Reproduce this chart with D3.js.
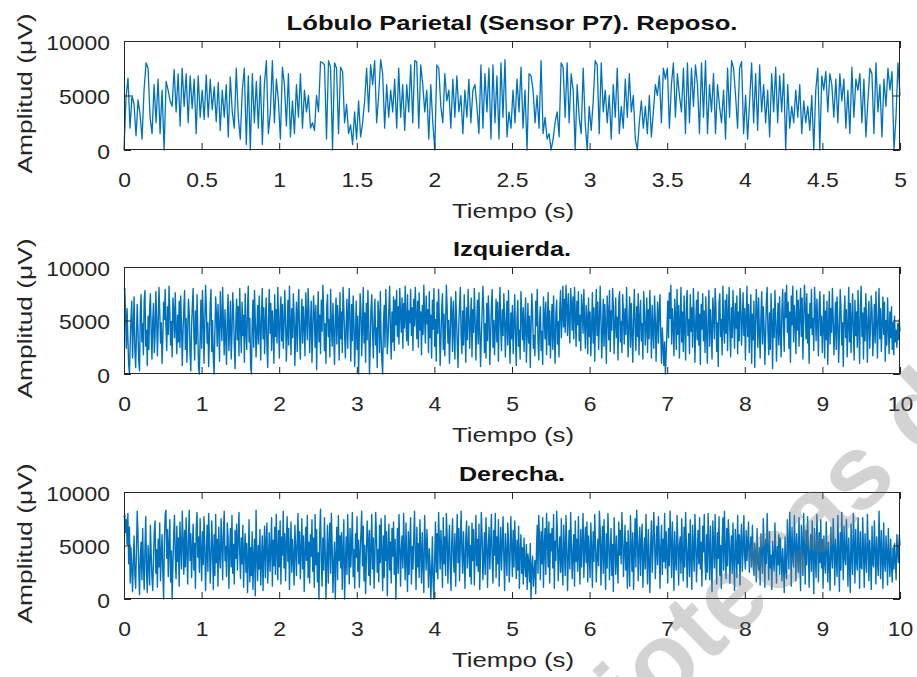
<!DOCTYPE html>
<html>
<head>
<meta charset="utf-8">
<script src="https://cdn.jsdelivr.net/npm/d3@7/dist/d3.min.js"></script>
<style>
  html, body { margin: 0; padding: 0; background: #fff; }
  svg { display: block; }
  text { font-family: "Liberation Sans", Arial, Helvetica, sans-serif; }
</style>
</head>
<body>
<svg id="chart" width="917" height="677"></svg>
<script>
// EEG amplitude (µV), sensor P7, parietal lobe
const titles = ["Lóbulo Parietal (Sensor P7). Reposo.", "Izquierda.", "Derecha."];
const durations = [5, 10, 10];               // seconds per recording
const xTicksRest = [0, 0.5, 1, 1.5, 2, 2.5, 3, 3.5, 4, 4.5, 5];
const xTicksTask = [0, 1, 2, 3, 4, 5, 6, 7, 8, 9, 10];
const yTicks = [0, 5000, 10000];
const xLabel = "Tiempo (s)";
const yLabel = "Amplitud (μV)";

// Rest recording, 5 s
const reposo = [
  0, 4800, 6600, 2000, 5000, 4200, 1300, 4600, 3300, 1000, 5500, 8000, 7500, 3000, 1500, 6000, 2500, 6500, 1500, 5500,
  0, 6300, 5500, 4500, 4000, 7400, 3500, 7000, 2200, 7500, 4000, 7000, 2500, 6800, 3800, 6500, 1500, 6800, 3000, 5500,
  2800, 6900, 3000, 6500, 3700, 5800, 2600, 6200, 1800, 5500, 3000, 6000, 1200, 6700, 3500, 2000, 7500, 3000, 1000, 5500,
  7500, 500, 6800, 0, 7000, 2500, 6300, 2000, 6800, 500, 6000, 8200, 1500, 3500, 8200, 2500, 6500, 4500, 1000, 7600,
  6000, 2200, 7000, 1200, 4500, 1500, 6000, 3000, 7000, 2000, 5500, 3500, 5000, 2000, 2500, 1800, 5000, 3500, 8100, 8000,
  7800, 1000, 8200, 7600, 0, 8000, 7500, 1500, 7600, 7200, 2500, 4200, 1500, 2300, 500, 3500, 1000, 4500, 1200, 2500,
  4500, 7500, 3500, 7800, 6000, 8200, 2500, 5000, 8300, 7000, 2000, 6000, 3000, 5500, 3500, 6500, 2000, 7500, 3000, 6000,
  1800, 6000, 3500, 7800, 2500, 8200, 8100, 2000, 7800, 6000, 3500, 5500, 1000, 6000, 2500, 0, 7800, 7500, 4000, 2500,
  7000, 4500, 5500, 2000, 6500, 3000, 6800, 3500, 5000, 1500,
  5500, 3000, 6500, 2500, 5500, 6000, 4000, 1500, 7800, 2000, 7000, 3500, 7500, 1000, 7800, 2500, 6800, 1000, 8000, 3000,
  8300, 1200, 3500, 2000, 5500, 2500, 6500, 3500, 7600, 2000, 5500, 0, 7000, 6800, 5500, 2500, 5000, 2000, 8200, 1500,
  3000, 1000, 1500, 0, 1000, 2500, 3500, 1200, 8000, 7600, 3000, 8000, 2500, 7000, 5500, 0, 6000, 3000, 1500, 7500,
  2500, 0, 4000, 1800, 4500, 8200, 7800, 1500, 8000, 3500, 5500, 2500, 5000, 1000, 6000, 3000, 7500, 1500, 4000, 2000,
  6500, 3000, 7000, 3500, 5000, 1000, 0, 2500, 4500, 2000, 4000, 1500, 5000, 1200, 3500, 6000, 5000, 6800, 2500, 7500,
  6500, 7500, 2000, 6000, 8000, 3000, 7000, 5000, 3500, 7500, 1500, 8000, 2500, 7500, 4000, 7800, 6000, 1500, 8000, 3000,
  8200, 1500, 6000, 3500, 7000, 1500, 6000, 4000, 2500, 5500, 1000, 7500, 3000, 8200, 7500, 5000, 2000, 7500, 8100, 1500,
  5000, 1000, 4500, 8000, 2500, 7000, 1800, 7800, 3500, 6000, 2500, 5500, 1200, 7000, 3500, 7600, 2500, 6800, 3500, 7000,
  0, 6000, 2000, 4000, 2500, 5500, 3000, 6000, 1500, 4500, 2500, 4000, 1800, 5000, 0, 5500, 7500, 0, 6800, 5500,
  7200, 3500, 7000, 6000, 3000, 6500, 2500, 7000, 4500, 6500, 2000, 5500, 1500, 7600, 3000, 6500, 5500, 7000, 2500, 6500,
  1200, 4500, 7500, 7000, 1500, 8000, 3500, 6000, 1200, 6500, 4000, 7500, 5500, 7200, 0, 3000, 8000, 5000
];

// Left-hand task, 10 s
const izquierda = [
  7900, 8000, 5600, 2400, 6100, 3300, 900, 0, 2800, 5200, 6800, 1500, 4300, 7200, 2100, 600, 3500, 6500, 4000, 1200, 300, 5800, 7400, 3000, 4700, 1800, 6900, 7800, 2600, 4100, 800, 5400, 2300, 6200, 7500, 3900, 1400, 5000, 6600, 2000, 3600, 7700, 5300, 1700, 4500, 8100, 6000, 2900, 4800, 1000,
  3200, 6700, 5100, 7900, 4400, 2200, 6300, 3700, 8200, 5800, 2700, 4900, 1600, 7100, 6000, 3400, 7600, 4200, 1900, 5500, 3000, 6800, 2500, 7300, 4600, 800, 3900, 6100, 7800, 2300, 5200, 1100, 4000, 7000, 5700, 2000, 300, 4500, 6400, 8000, 3600, 1300, 5900, 2800, 7400, 4100, 600, 0, 3300, 6900,
  2400, 7800, 5300, 1000, 4600, 8300, 6200, 2900, 4800, 700, 3500, 6600, 7900, 2100, 5000, 1500, 0, 3800, 7200, 5600, 2600, 6500, 4300, 1200, 7700, 5100, 3100, 8100, 4700, 1800, 6000, 3400, 900, 5400, 7400, 2200, 4100, 6800, 1400, 3700, 7600, 5800, 2700, 500, 4900, 7000, 3200, 6300, 1700, 8000,
  4400, 2000, 6700, 3600, 5500, 1100, 7500, 4000, 2300, 6100, 8200, 3000, 5200, 700, 0, 4600, 6900, 2500, 7800, 5000, 1600, 3900, 6400, 2800, 7300, 4500, 1300, 5700, 8000, 3300, 6200, 1900, 4700, 7100, 2600, 600, 5300, 7900, 3800, 6600, 2200, 5900, 4200, 1000, 7400, 3500, 6000, 2900, 8100, 4800,
  1500, 5600, 7200, 3100, 6500, 2400, 4400, 7800, 5100, 1200, 3700, 6900, 2700, 8200, 4900, 1800, 6100, 3400, 7500, 5400, 800, 4100, 6700, 2100, 5800, 7900, 3600, 1400, 4800, 7000, 2900, 6300, 4500, 1700, 7600, 5200, 3200, 8000, 6000, 2000, 4300, 6800, 1100, 3900, 7300, 5700, 2500, 6400, 400, 4600,
  7700, 3000, 5500, 1900, 6900, 4000, 8300, 5900, 2200, 4700, 1000, 6200, 7400, 3500, 5100, 1600, 7900, 4400, 2600, 6600, 3800, 900, 5300, 7100, 2800, 6400, 4900, 1300, 7600, 3300, 5800, 2000, 8100, 6100, 3700, 1500, 4600, 7000, 2400, 5600, 8000, 4200, 1200, 6500, 3100, 7300, 5000, 700, 3600, 6800,
  2300, 5400, 0, 3800, 7500, 6000, 1700, 4500, 8100, 2900, 5700, 1100, 6600, 3200, 7800, 4800, 0, 2600, 6200, 7400, 3900, 1500, 5200, 7000, 2700, 4300, 600, 6800, 5500, 2000, 7700, 3400, 1200, 0, 4700, 6400, 2500, 7900, 5300, 1900, 3600, 6100, 8200, 4000, 1400, 5800, 3000, 7200, 2200, 6900,
  4600, 7800, 3500, 6300, 2800, 8000, 5600, 3900, 7100, 2400, 6600, 4300, 8200, 5000, 3100, 7400, 2700, 5900, 4800, 7900, 3600, 6200, 2200, 7000, 4500, 8100, 5400, 3300, 6800, 2500, 7600, 4100, 5800, 1800, 6400, 3700, 8300, 5200, 2900, 7300, 4700, 6000, 2000, 7700, 3400, 5500, 1500, 6900, 4200, 8000,
  2600, 5100, 1200, 6700, 3800, 7900, 4900, 800, 3300, 6100, 7500, 2300, 5600, 1700, 4400, 8300, 6300, 2900, 5000, 1000, 3700, 7200, 5700, 2100, 6800, 4000, 1400, 7700, 5300, 3000, 600, 4600, 6500, 8100, 3500, 1900, 5900, 2700, 7400, 4300, 1100, 6200, 3200, 7900, 5500, 2400, 4800, 7100, 1600, 6000,
  3900, 8000, 5200, 1300, 4500, 6900, 2800, 7600, 4100, 700, 3400, 5800, 8200, 6100, 2000, 4700, 1500, 6600, 3100, 7300, 5400, 900, 3700, 6300, 7900, 2500, 5000, 1800, 4400, 7000, 3000, 6700, 1200, 5500, 8100, 4200, 2200, 6000, 3600, 7500, 5100, 1600, 4900, 6800, 2700, 7800, 4000, 1000, 5700, 3300,
  6400, 1900, 4600, 7400, 3500, 800, 5300, 6900, 2600, 4100, 1400, 7700, 5600, 3200, 6200, 2100, 4800, 7100, 1100, 3800, 6600, 2900, 5400, 600, 4300, 7500, 5800, 2400, 3600, 1700, 6800, 4500, 7900, 3000, 1300, 5100, 6300, 2200, 4000, 900, 7200, 5500, 3300, 6700, 1800, 4700, 7600, 2700, 5900, 1500,
  4200, 6500, 2300, 7300, 3700, 1000, 5600, 6900, 2800, 4900, 1600, 6100, 7800, 3400, 5200, 8200, 4400, 7000, 3900, 8300, 6200, 3600, 7500, 5000, 2900, 8000, 6600, 4100, 7200, 3300, 8100, 5700, 2600, 6800, 4600, 7700, 3100, 5500, 2200, 7400, 6000, 3800, 7900, 4700, 2400, 6400, 5300, 1900, 7100, 3500,
  5800, 1700, 4400, 7600, 2900, 6200, 1200, 5100, 7900, 3600, 6700, 2300, 4800, 8200, 5400, 1500, 3900, 7000, 2600, 6500, 4300, 1000, 7300, 5600, 3200, 7800, 2100, 5900, 4100, 8000, 6300, 1900, 4600, 7100, 3400, 5300, 1300, 6800, 7700, 3000, 4900, 2000, 7400, 5700, 2800, 6100, 3700, 8100, 4500, 1600,
  5000, 7200, 2500, 6600, 3800, 1100, 5500, 7900, 4200, 2200, 6300, 3500, 7500, 1800, 5200, 6900, 3100, 4700, 1400, 7700, 5900, 2700, 4400, 7100, 2000, 6000, 3300, 7800, 4900, 1500, 6400, 3900, 2400, 7300, 5100, 1200, 4600, 6700, 2900, 5700, 7400, 3600, 1000, 4300, 2600, 800, 3000, 0, 1900, 4100,
  6800, 3400, 7600, 5200, 8300, 2800, 6100, 4500, 1700, 7000, 5500, 2300, 7900, 3700, 6400, 1500, 4900, 8100, 3000, 5800, 2100, 7300, 4400, 1300, 6600, 7800, 3600, 5100, 1900, 7400, 4000, 6200, 2500, 8000, 5400, 1100, 4700, 6900, 3200, 7700, 2700, 5600, 900, 6500, 4200, 7500, 3100, 5900, 2000, 7200,
  3900, 1000, 5300, 7800, 2600, 6000, 4400, 1400, 7100, 5700, 3300, 8000, 6300, 2100, 4800, 700, 6700, 7500, 3500, 5100, 1800, 8200, 4600, 2900, 6900, 3800, 7400, 2200, 5500, 8100, 4100, 1600, 6200, 3400, 7800, 5000, 2400, 6600, 4300, 7300, 1900, 5800, 3100, 8000, 6400, 2700, 4900, 7600, 3600, 6100,
  1300, 5200, 8200, 3500, 6500, 2000, 4700, 7400, 1000, 5600, 3200, 6800, 600, 4300, 7900, 5900, 2500, 7100, 3800, 1500, 5400, 7700, 2800, 6300, 4500, 900, 3600, 6900, 8100, 4000, 1800, 5700, 2300, 7500, 4800, 500, 6100, 3400, 7800, 5000, 1200, 4200, 6600, 2700, 7200, 3700, 1600, 6000, 7900, 4400,
  2100, 7600, 5300, 8300, 3900, 6700, 2400, 5800, 1100, 7300, 4600, 8200, 3000, 6400, 5000, 1900, 7800, 4100, 6900, 2600, 5500, 8000, 3500, 7100, 1400, 4900, 8300, 6200, 3300, 7500, 2900, 5600, 1000, 6600, 4300, 7900, 3700, 5200, 2200, 8100, 6000, 3100, 7000, 4700, 1700, 6500, 7700, 3600, 5400, 2000,
  4600, 7400, 1500, 5900, 3200, 6800, 900, 4400, 7700, 2800, 6100, 3900, 8000, 5300, 1800, 4100, 6700, 2300, 7200, 5000, 1100, 3700, 7900, 6300, 2700, 4800, 700, 5600, 7300, 3400, 6000, 1600, 4500, 8100, 3000, 6600, 2000, 5100, 7500, 4000, 1300, 6900, 3600, 5800, 2500, 7800, 4300, 1000, 6400, 8200,
  3500, 5700, 1400, 6200, 3100, 7500, 4700, 1100, 5300, 6800, 2400, 4200, 7300, 5900, 1700, 3800, 6500, 2900, 7700, 4900, 1500, 5500, 8000, 3300, 6100, 2100, 4600, 7200, 3700, 6700, 1200, 5000, 2700, 7100, 4400, 1900, 5800, 3400, 6300, 2300, 4800, 1800, 5400, 3000, 4100, 2500, 4700, 3200, 5100, 4000
];

// Right-hand task, 10 s
const derecha = [
  7600, 7900, 6200, 7400, 5100, 8000, 3300, 6700, 1500, 4800, 2900, 700, 3600, 5900, 2200, 1000, 4400, 8200, 6100, 2700, 400, 3900, 5300, 1800, 6600, 3100, 900, 4700, 7700, 2500, 600, 5000, 3400, 1300, 6900, 4200, 2000, 800, 3700, 6300, 7300, 2400, 4600, 1100, 5600, 3000, 7100, 1700, 4100, 6000,
  2600, 0, 5400, 7900, 8300, 3800, 6500, 2100, 5100, 7400, 1600, 4500, 0, 3300, 6200, 7800, 4000, 1900, 6800, 3500, 5700, 1200, 7200, 4900, 2800, 8200, 5500, 2300, 6400, 3000, 7600, 4300, 1400, 5900, 8300, 3600, 6100, 2000, 4700, 7000, 2700, 5200, 1000, 6600, 8100, 3900, 5800, 2500, 7500, 4400,
  1700, 6300, 3200, 7700, 5000, 800, 4100, 6900, 2600, 8000, 5400, 1500, 3700, 7300, 4600, 900, 6000, 2200, 7900, 3400, 5600, 1200, 6700, 4000, 2900, 7500, 5300, 1800, 6200, 8200, 3600, 4900, 2100, 7100, 5800, 1000, 4300, 6600, 3000, 7800, 2400, 5100, 1400, 6400, 3800, 7000, 2700, 5500, 8100, 4200,
  1900, 5700, 3300, 6900, 1100, 4500, 6100, 2500, 5200, 600, 3600, 7400, 1600, 4800, 2200, 6300, 900, 3900, 5600, 300, 8300, 4100, 1700, 5000, 2800, 6500, 1300, 3500, 5900, 800, 4400, 6800, 2000, 5300, 7100, 1500, 3800, 6200, 2600, 4700, 7600, 1200, 5500, 3100, 6700, 2300, 7900, 4600, 1800, 6400,
  3000, 7300, 1400, 5800, 4100, 8200, 2900, 6100, 1700, 5100, 7700, 3500, 6600, 900, 4400, 7200, 2500, 5600, 3800, 1300, 6900, 4800, 2200, 5400, 8000, 3300, 6300, 1900, 4600, 7500, 2800, 5900, 700, 4200, 6700, 3600, 7800, 2000, 5300, 1500, 6000, 4000, 7400, 2600, 5700, 1100, 7900, 3200, 6500, 1600,
  4300, 0, 6400, 8400, 3500, 1200, 5700, 2700, 7600, 4500, 0, 3800, 6900, 1500, 5000, 7100, 2400, 8000, 4900, 600, 3300, 5300, 0, 4100, 6700, 1800, 7800, 3600, 5900, 2900, 6200, 900, 4400, 7400, 0, 3200, 5800, 2300, 7900, 4700, 1400, 6600, 3000, 5200, 8100, 2100, 4600, 1000, 6100, 3900,
  7700, 2600, 5500, 1100, 4200, 6100, 8200, 3100, 6800, 1700, 5000, 500, 3700, 7300, 5500, 2200, 6400, 1300, 4800, 7900, 2800, 5700, 1000, 3900, 8100, 6000, 2500, 4600, 1600, 6900, 3400, 7500, 4300, 800, 5900, 2000, 7800, 3600, 6300, 300, 4500, 7000, 2700, 5300, 1500, 6600, 4000, 7200, 2300, 5600,
  0, 3500, 6600, 2400, 7900, 5100, 1200, 4600, 5900, 2900, 8000, 4300, 1800, 7100, 3600, 700, 6300, 2300, 5400, 7600, 1400, 4900, 2800, 5600, 8200, 3900, 900, 6700, 3000, 5200, 2000, 7400, 4400, 1500, 6200, 3300, 600, 7800, 5000, 2700, 6500, 4100, 1100, 4700, 3200, 0, 2500, 5800, 1600, 0,
  4000, 7200, 2500, 6100, 1900, 8100, 5400, 2800, 6400, 4200, 1100, 7600, 3300, 5800, 2200, 8000, 6000, 1500, 4700, 6900, 3000, 800, 5500, 7500, 3700, 2500, 6100, 1200, 4900, 7900, 3400, 6600, 1700, 5200, 8200, 4400, 2400, 6300, 3800, 1000, 5700, 7300, 2900, 4600, 6800, 2100, 5000, 1400, 7100, 3600,
  6500, 1300, 4500, 7800, 3100, 5600, 2600, 7000, 900, 4200, 8100, 5900, 1800, 3700, 6200, 2300, 7600, 5100, 1100, 4800, 6700, 2800, 5300, 7900, 3500, 1500, 6400, 4100, 8000, 2000, 5800, 3300, 7400, 1200, 4600, 6700, 2700, 5000, 7700, 3900, 800, 6100, 4300, 2200, 7100, 5500, 1600, 3800, 7700, 4900,
  2100, 6400, 3000, 7300, 4700, 1900, 5500, 2700, 6800, 1000, 4400, 6000, 2400, 4800, 1400, 5700, 3200, 2100, 5100, 900, 4200, 3400, 1600, 5200, 0, 3000, 4000, 1200, 2600, 3600, 500, 4600, 6900, 2400, 7800, 5300, 1800, 6300, 3300, 7600, 1100, 4900, 6600, 2300, 8000, 5700, 3000, 7200, 1500, 6100,
  4500, 6600, 2900, 7900, 1000, 5400, 3600, 8200, 6100, 1700, 4300, 5800, 2500, 7500, 3200, 1300, 6900, 4600, 2200, 7800, 5100, 800, 3900, 6400, 2800, 8100, 5000, 1900, 4400, 6000, 1200, 7300, 3500, 5600, 2600, 7700, 4100, 1400, 6500, 3000, 5300, 8000, 2000, 4800, 6700, 3400, 7200, 1600, 5900, 4200,
  2000, 7100, 4600, 1100, 6300, 3500, 7900, 5200, 1600, 4000, 5600, 3100, 8200, 6600, 1300, 4700, 6800, 2400, 7400, 3800, 900, 6100, 2900, 8000, 5500, 1800, 4300, 6600, 2200, 5100, 700, 7600, 4900, 2300, 5900, 3400, 1500, 7200, 4100, 6400, 3300, 8100, 5700, 2100, 4500, 6900, 2700, 5300, 1000, 6400,
  3700, 1200, 7800, 5000, 2600, 6200, 900, 4400, 7500, 3000, 8300, 5800, 1700, 4800, 6700, 2200, 5400, 7000, 1100, 3900, 5700, 2800, 7900, 4200, 1400, 6500, 3600, 600, 5100, 7300, 2500, 4600, 8100, 6000, 1900, 4300, 6800, 3200, 7700, 5300, 1000, 4700, 6900, 2300, 5600, 3500, 8000, 2900, 6300, 4100,
  1500, 6600, 3100, 8200, 5200, 2000, 7200, 4500, 800, 6300, 3600, 2700, 7800, 5500, 1300, 4900, 5800, 2400, 7500, 4000, 1700, 6700, 3000, 8100, 5100, 1100, 4300, 6100, 2100, 7400, 3700, 900, 6900, 4600, 2600, 7900, 5600, 1600, 4100, 6400, 3300, 7600, 2800, 5300, 1200, 6800, 4400, 7900, 3500, 1800,
  6000, 2500, 8000, 4800, 1800, 6800, 3400, 700, 7300, 5100, 2900, 7900, 4200, 1400, 6200, 3800, 7700, 2200, 5000, 1000, 5500, 7600, 2700, 8200, 4600, 1900, 6600, 3100, 7400, 5800, 1500, 4400, 5900, 2400, 7100, 3600, 800, 6500, 4900, 2000, 7800, 3300, 6000, 1300, 5400, 7000, 2600, 4700, 7800, 3900,
  2800, 6400, 3600, 5200, 7200, 2500, 4500, 5800, 3000, 6900, 3800, 2200, 5200, 4200, 1600, 6600, 3500, 2700, 4800, 1300, 6100, 3900, 2400, 7500, 5000, 1100, 5600, 3300, 8000, 4600, 1800, 6300, 2900, 4100, 900, 5400, 3700, 2600, 7100, 4400, 1500, 4900, 3200, 6000, 2300, 5700, 3800, 1700, 4700, 3100,
  600, 5800, 2800, 1900, 7400, 4800, 2800, 8100, 5500, 1200, 6700, 3900, 3000, 7800, 5100, 1700, 6100, 4300, 2500, 7600, 3600, 800, 6900, 5300, 2200, 8000, 4700, 1400, 6400, 3200, 7700, 5000, 1100, 4500, 6000, 2600, 7300, 3800, 500, 6600, 4000, 2000, 7900, 5200, 1600, 6200, 3400, 7400, 2900, 5600,
  1000, 5900, 3500, 2400, 7200, 4600, 1600, 5300, 3100, 800, 6700, 4200, 2900, 7500, 5000, 1300, 5600, 3700, 2100, 7800, 4400, 700, 6200, 2700, 8100, 5100, 1800, 6800, 3900, 3200, 7400, 4800, 1200, 5700, 3300, 600, 7000, 4100, 2300, 8000, 5400, 1500, 6500, 3600, 2700, 7600, 4900, 1000, 6300, 3000,
  2800, 7600, 4500, 1100, 6100, 3700, 2500, 7900, 5200, 1700, 5500, 4000, 900, 6800, 3300, 3000, 7300, 4700, 1400, 5800, 3600, 2200, 8200, 5000, 1900, 6400, 4100, 1000, 7100, 3500, 2600, 5900, 4300, 1300, 6600, 3900, 2100, 5600, 3200, 1600, 4800, 2800, 5200, 3500, 1800, 6000, 4400, 3400, 6000, 5000
];

const series = [reposo, izquierda, derecha];
const xTicks = [xTicksRest, xTicksTask, xTicksTask];

// ---- layout ----
const W = 917, H = 677;
const plotLeft = 124, plotRight = 900;
const panelTops = [41, 267, 492];
const panelBottoms = [150, 374, 599];
const titleWidths = [451, 118, 106];
const lineWidths = [1.3, 1.4, 1.4];
const ink = "#262626";
const lineColor = "#0072BD";
const tickLen = 7;
const tickStretch = 1.09;

const svg = d3.select("#chart");
svg.append("rect").attr("width", W).attr("height", H).attr("fill", "#fff");

// stretch a text element to a target width
function fitWidth(sel, width) {
  sel.attr("textLength", width).attr("lengthAdjust", "spacingAndGlyphs");
}
function stretch(sel, k) {
  sel.each(function () {
    const w = this.getComputedTextLength();
    d3.select(this).attr("textLength", w * k).attr("lengthAdjust", "spacingAndGlyphs");
  });
}

series.forEach((values, p) => {
  const top = panelTops[p], bottom = panelBottoms[p];
  const dur = durations[p];
  const x = d3.scaleLinear().domain([0, dur]).range([plotLeft, plotRight]);
  const y = d3.scaleLinear().domain([0, 10000]).range([bottom, top]);
  const g = svg.append("g");

  // trace
  const n = values.length;
  const line = d3.line()
    .x((d, i) => x(i * dur / (n - 1)))
    .y(d => y(d));
  g.append("path")
    .datum(values)
    .attr("d", line)
    .attr("fill", "none")
    .attr("stroke", lineColor)
    .attr("stroke-width", lineWidths[p])
    .attr("stroke-linejoin", "round");

  // axes: ticks pointing inward, mirrored on opposite sides
  const xb = d3.axisBottom(x).tickValues(xTicks[p]).tickSize(-tickLen).tickPadding(0)
    .tickFormat(d3.format("~g"));
  const xt = d3.axisTop(x).tickValues(xTicks[p]).tickSize(-tickLen).tickFormat("");
  const yl = d3.axisLeft(y).tickValues(yTicks).tickSize(-tickLen).tickFormat(d3.format("d"));
  const yr = d3.axisRight(y).tickValues(yTicks).tickSize(-tickLen).tickFormat("");

  const gxb = g.append("g").attr("transform", `translate(0,${bottom})`).call(xb);
  const gxt = g.append("g").attr("transform", `translate(0,${top})`).call(xt);
  const gyl = g.append("g").attr("transform", `translate(${plotLeft},0)`).call(yl);
  const gyr = g.append("g").attr("transform", `translate(${plotRight},0)`).call(yr);

  [gxb, gxt, gyl, gyr].forEach(a => {
    a.select(".domain").remove();
    a.selectAll("line").attr("stroke", ink).attr("stroke-width", 1);
  });

  gxb.selectAll("text")
    .attr("y", 36.5).attr("dy", null)
    .attr("fill", ink).attr("font-size", 21)
    .attr("font-family", "Liberation Sans, Arial, sans-serif")
    .call(stretch, tickStretch);

  gyl.selectAll("text")
    .attr("x", -14).attr("dy", null).attr("y", 8)
    .attr("fill", ink).attr("font-size", 21)
    .attr("font-family", "Liberation Sans, Arial, sans-serif")
    .call(stretch, tickStretch);

  // frame
  g.append("rect")
    .attr("x", plotLeft + 0.5).attr("y", top + 0.5)
    .attr("width", plotRight - plotLeft - 1).attr("height", bottom - top - 1)
    .attr("fill", "none").attr("stroke", ink).attr("stroke-width", 1);

  // title
  g.append("text")
    .attr("x", (plotLeft + plotRight) / 2).attr("y", top - 11.5)
    .attr("text-anchor", "middle")
    .attr("font-size", 21).attr("font-weight", "bold").attr("fill", "#111")
    .text(titles[p])
    .call(fitWidth, titleWidths[p]);

  // x label
  g.append("text")
    .attr("x", 513).attr("y", bottom + 68)
    .attr("text-anchor", "middle")
    .attr("font-size", 20).attr("fill", ink)
    .text(xLabel)
    .call(fitWidth, 122);

  // y label
  g.append("text")
    .attr("transform", `translate(32,${(top + bottom) / 2 - 2}) rotate(-90)`)
    .attr("text-anchor", "middle")
    .attr("font-size", 21).attr("fill", ink)
    .text(yLabel)
    .call(fitWidth, 160);
});

// library stamp across the lower right
svg.append("text")
  .attr("transform", "translate(497,868) rotate(-44)")
  .attr("font-size", 105)
  .attr("font-weight", "bold")
  .attr("fill", "#777")
  .attr("fill-opacity", 0.32)
  .text("Bibliotecas de");
</script>
</body>
</html>
